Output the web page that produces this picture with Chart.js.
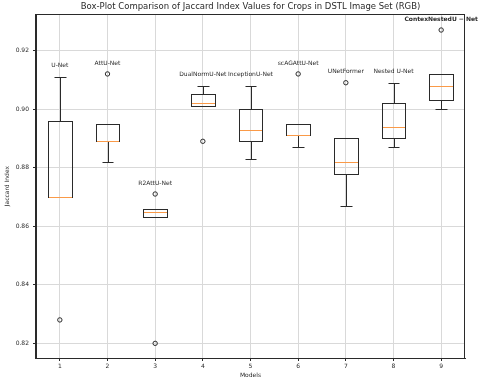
<!DOCTYPE html>
<html>
<head>
<meta charset="utf-8">
<script src="https://cdn.jsdelivr.net/npm/chart.js@4.4.1/dist/chart.umd.min.js"></script>
<style>
  body { margin: 0; background: #fff; }
  canvas { display: block; }
</style>
</head>
<body>
<canvas id="boxChart" width="480" height="383"></canvas>
<script>
const models = ['U-Net', 'AttU-Net', 'R2AttU-Net', 'DualNormU-Net', 'InceptionU-Net', 'scAGAttU-Net', 'UNetFormer', 'Nested U-Net', 'ContexNestedU − Net'];
const whiskerLow = [0.870, 0.882, 0.863, 0.901, 0.883, 0.887, 0.867, 0.887, 0.900];
const q1 = [0.870, 0.889, 0.863, 0.901, 0.889, 0.891, 0.878, 0.890, 0.903];
const median = [0.870, 0.889, 0.865, 0.902, 0.893, 0.891, 0.882, 0.894, 0.908];
const q3 = [0.896, 0.895, 0.866, 0.905, 0.900, 0.895, 0.890, 0.902, 0.912];
const whiskerHigh = [0.911, 0.895, 0.866, 0.908, 0.908, 0.895, 0.890, 0.909, 0.912];
const outliers = [[0.828], [0.912], [0.871, 0.820], [0.889], [], [0.912], [0.909], [], [0.927]];
const yTicks = [0.82, 0.84, 0.86, 0.88, 0.90, 0.92];

const boxWidth = 0.5;
const edgeColor = '#2a2a2a';
const medianColor = '#fa9a48';
const gridColor = '#d9d9d9';

Chart.defaults.font.family = 'DejaVu Sans';
Chart.defaults.color = edgeColor;

// snap to pixel centre so 1px lines stay crisp
const px = v => Math.round(v) + 0.5;

const outlierPoints = [];
outliers.forEach((list, i) => {
  list.forEach(v => outlierPoints.push({ x: i + 1, y: v }));
});

const boxPlugin = {
  id: 'boxes',
  beforeDatasetsDraw(chart) {
    const { ctx, chartArea, scales: { x, y } } = chart;
    ctx.save();
    ctx.lineWidth = 1;

    models.forEach((name, i) => {
      const cx = x.getPixelForValue(i + 1);
      const half = x.getPixelForValue(i + 1 + boxWidth / 2) - cx;
      const left = px(cx - half);
      const right = px(cx + half);
      const mid = px(cx);
      const capL = px(cx - half / 2);
      const capR = px(cx + half / 2);
      const yLow = px(y.getPixelForValue(whiskerLow[i]));
      const yQ1 = px(y.getPixelForValue(q1[i]));
      const yMed = px(y.getPixelForValue(median[i]));
      const yQ3 = px(y.getPixelForValue(q3[i]));
      const yHigh = px(y.getPixelForValue(whiskerHigh[i]));

      ctx.strokeStyle = edgeColor;
      ctx.beginPath();
      // whiskers
      ctx.moveTo(mid, yQ3); ctx.lineTo(mid, yHigh);
      ctx.moveTo(mid, yQ1); ctx.lineTo(mid, yLow);
      // caps
      ctx.moveTo(capL, yHigh); ctx.lineTo(capR, yHigh);
      ctx.moveTo(capL, yLow); ctx.lineTo(capR, yLow);
      ctx.stroke();

      ctx.strokeRect(left, yQ3, right - left, yQ1 - yQ3);

      ctx.strokeStyle = medianColor;
      ctx.beginPath();
      ctx.moveTo(left + 0.5, yMed);
      ctx.lineTo(right - 0.5, yMed);
      ctx.stroke();
    });

    // frame on all four sides
    ctx.strokeStyle = edgeColor;
    ctx.strokeRect(px(chartArea.left) - 1, px(chartArea.top), Math.round(chartArea.right - chartArea.left), Math.round(chartArea.bottom - chartArea.top));
    ctx.restore();
  },
  afterDatasetsDraw(chart) {
    const { ctx, scales: { x, y } } = chart;
    ctx.save();
    ctx.fillStyle = edgeColor;
    ctx.textAlign = 'center';
    ctx.textBaseline = 'middle';
    models.forEach((name, i) => {
      const top = Math.max(whiskerHigh[i], ...outliers[i]);
      const bold = i === models.length - 1;
      ctx.font = (bold ? 'bold ' : '') + '6px "DejaVu Sans"';
      ctx.fillText(name, x.getPixelForValue(i + 1), y.getPixelForValue(top) - 11);
    });
    ctx.restore();
  }
};

const ctx = document.getElementById('boxChart').getContext('2d');

window.chart = new Chart(ctx, {
  type: 'scatter',
  data: {
    datasets: [{
      label: 'Outliers',
      data: outlierPoints,
      pointStyle: 'circle',
      pointRadius: 2.2,
      pointBorderWidth: 1,
      borderColor: edgeColor,
      backgroundColor: 'rgba(0, 0, 0, 0)'
    }]
  },
  options: {
    responsive: false,
    animation: false,
    devicePixelRatio: 1,
    layout: { padding: { left: 0, right: 15, top: 0, bottom: 0 } },
    plugins: {
      legend: { display: false },
      tooltip: { enabled: false },
      title: {
        display: true,
        fullSize: false,
        text: 'Box-Plot Comparison of Jaccard Index Values for Crops in DSTL Image Set (RGB)',
        font: { size: 8.5, weight: 'normal' },
        color: edgeColor,
        padding: { top: 2, bottom: 2 }
      }
    },
    scales: {
      x: {
        type: 'linear',
        min: 0.5,
        max: 9.5,
        afterBuildTicks: (scale) => {
          scale.ticks = models.map((m, i) => ({ value: i + 1 }));
        },
        afterFit: (scale) => { scale.height = 25; },
        ticks: { font: { size: 6 }, padding: 2, maxRotation: 0, autoSkip: false, callback: v => v },
        grid: { color: gridColor, tickColor: edgeColor, tickLength: 3 },
        border: { color: edgeColor },
        title: { display: true, text: 'Models', font: { size: 6 }, padding: { top: 0, bottom: 4 } }
      },
      y: {
        type: 'linear',
        min: 0.815,
        max: 0.9324,
        afterBuildTicks: (scale) => {
          scale.ticks = yTicks.map(v => ({ value: v }));
        },
        afterFit: (scale) => { scale.width = 36; },
        ticks: { font: { size: 6 }, padding: 4, callback: v => v.toFixed(2) },
        grid: { color: gridColor, tickColor: edgeColor, tickLength: 3 },
        border: { color: edgeColor },
        title: { display: true, text: 'Jaccard Index', font: { size: 6 }, padding: { top: 4, bottom: 0 } }
      }
    }
  },
  plugins: [boxPlugin]
});
</script>
</body>
</html>
